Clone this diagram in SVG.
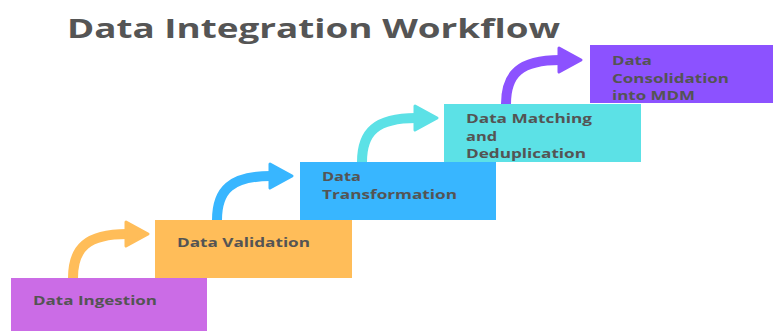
<svg xmlns="http://www.w3.org/2000/svg" width="775" height="331" viewBox="0 0 775 331">
  <style>
    .title { font-family: "Open Sans", "Liberation Sans", sans-serif; font-weight: 700; font-size: 27px; fill: #555555; }
    .label { font-family: "Open Sans", "Liberation Sans", sans-serif; font-weight: 700; font-size: 13px; fill: #545454; }
    .stem { fill: none; stroke-width: 10; stroke-linecap: round; }
    .head { stroke-width: 3; stroke-linejoin: round; }
  </style>
  <defs>
    <!-- curved step arrow, origin at the top-left corner of the lower step -->
    <g id="stepArrow">
      <path class="stem" stroke="currentColor" d="M62,0 C62,-30 76,-44 116,-44"/>
      <polygon class="head" fill="currentColor" stroke="currentColor" points="115,-56 137,-44 115,-32"/>
    </g>
  </defs>

  <rect width="775" height="331" fill="#ffffff"/>

  <text class="title" x="67" y="38" textLength="493" lengthAdjust="spacingAndGlyphs">Data Integration Workflow</text>

  <g id="connectors">
    <use href="#stepArrow" x="11" y="278" style="color:#FFBD59"/>
    <use href="#stepArrow" x="155" y="220" style="color:#38B6FF"/>
    <use href="#stepArrow" x="300" y="162" style="color:#5CE1E6"/>
    <use href="#stepArrow" x="444" y="104" style="color:#8C52FF"/>
  </g>

  <g id="ingestion">
    <rect x="11" y="278" width="196" height="53" fill="#CB6CE6"/>
    <text class="label" x="33" y="305" textLength="124" lengthAdjust="spacingAndGlyphs">Data Ingestion</text>
  </g>

  <g id="validation">
    <rect x="155" y="220" width="197" height="58" fill="#FFBD59"/>
    <text class="label" x="177" y="247" textLength="133" lengthAdjust="spacingAndGlyphs">Data Validation</text>
  </g>

  <g id="transformation">
    <rect x="300" y="162" width="196" height="58" fill="#38B6FF"/>
    <text class="label" x="322" y="181" textLength="39" lengthAdjust="spacingAndGlyphs">Data</text>
    <text class="label" x="322" y="199" textLength="135" lengthAdjust="spacingAndGlyphs">Transformation</text>
  </g>

  <g id="matching">
    <rect x="444" y="104" width="197" height="58" fill="#5CE1E6"/>
    <text class="label" x="466" y="123" textLength="126" lengthAdjust="spacingAndGlyphs">Data Matching</text>
    <text class="label" x="466" y="141" textLength="31" lengthAdjust="spacingAndGlyphs">and</text>
    <text class="label" x="466" y="158" textLength="120" lengthAdjust="spacingAndGlyphs">Deduplication</text>
  </g>

  <g id="consolidation">
    <rect x="590" y="45" width="183" height="58" fill="#8C52FF"/>
    <text class="label" x="612" y="65" textLength="40" lengthAdjust="spacingAndGlyphs">Data</text>
    <text class="label" x="612" y="83" textLength="117" lengthAdjust="spacingAndGlyphs">Consolidation</text>
    <text class="label" x="612" y="100" textLength="83" lengthAdjust="spacingAndGlyphs">into MDM</text>
  </g>
</svg>
